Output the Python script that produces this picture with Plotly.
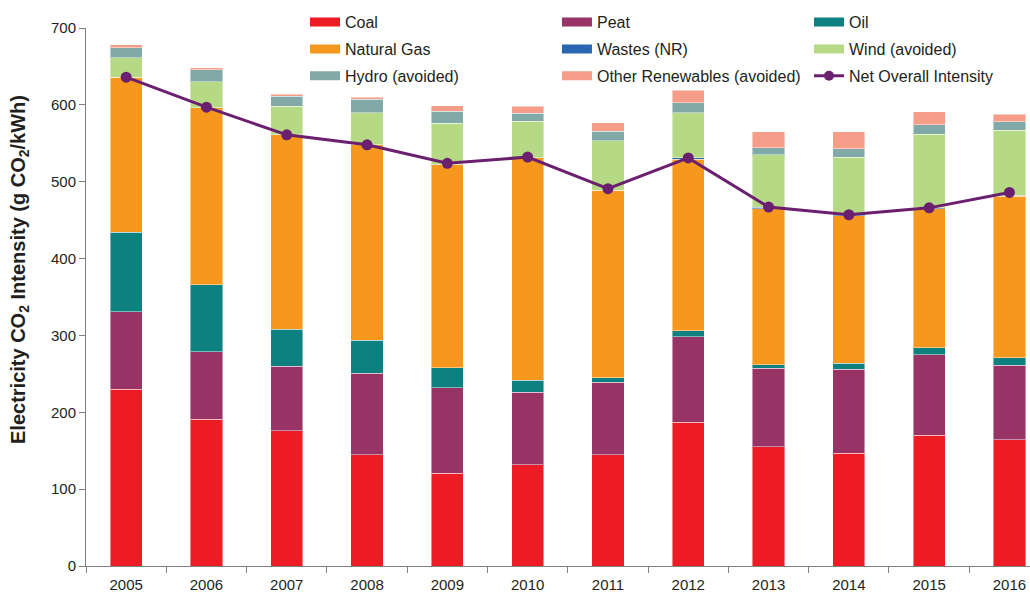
import plotly.graph_objects as go

years = ["2005", "2006", "2007", "2008", "2009", "2010", "2011", "2012", "2013", "2014", "2015", "2016"]

coal = [230, 191, 176, 145, 121, 132, 145, 187, 155, 147, 170, 164]
peat = [101, 88, 84, 106, 111, 94, 94, 111, 102, 109, 105, 97]
oil = [103, 87, 48, 43, 26, 16, 6, 8, 5, 8, 9, 10]
natural_gas = [202, 230, 253, 254, 264, 289, 244, 223, 203, 191.5, 181, 210]
wastes = [0, 0, 0, 0, 0, 0, 0, 2, 1.5, 1.5, 1, 1]
wind = [25, 34, 37, 42, 54, 47.5, 64, 59, 68.5, 75, 96, 85]
hydro = [13, 16, 13, 17, 16, 10.5, 12.5, 13, 9, 11, 12, 11]
other_renewables = [4, 2, 3, 3, 7, 9, 11.5, 16, 21, 22, 17, 10]
net_intensity = [636, 597, 561, 548, 524, 532, 491, 531, 467, 457, 466, 486]

series = [
    ("Coal", coal, "#ED1C24", "legend"),
    ("Peat", peat, "#983366", "legend2"),
    ("Oil", oil, "#0E8080", "legend3"),
    ("Natural Gas", natural_gas, "#F7981E", "legend"),
    ("Wastes (NR)", wastes, "#2B66B0", "legend2"),
    ("Wind (avoided)", wind, "#B6D985", "legend3"),
    ("Hydro (avoided)", hydro, "#80A9A7", "legend"),
    ("Other Renewables (avoided)", other_renewables, "#F59D88", "legend2"),
]

FONT = "Liberation Sans, Arial, sans-serif"
TXT = "#231F20"

fig = go.Figure()

for name, vals, color, lg in series:
    fig.add_trace(go.Bar(
        x=years, y=vals, name=name,
        marker=dict(color=color, line=dict(color="rgba(255,255,255,0.45)", width=1)),
        showlegend=False,
    ))

fig.add_trace(go.Scatter(
    x=years, y=net_intensity,
    mode="lines+markers",
    name="Net Overall Intensity",
    line=dict(color="#6B1F6F", width=3),
    marker=dict(color="#6B1F6F", size=11),
    showlegend=False,
))

# legend entries (wide flat swatches like the original)
for name, vals, color, lg in series:
    fig.add_trace(go.Scatter(
        x=[None], y=[None], mode="lines", name=name,
        line=dict(color=color, width=9),
        legend=lg, legendgroup=name,
    ))
fig.add_trace(go.Scatter(
    x=[None], y=[None], mode="lines+markers", name="Net Overall Intensity",
    line=dict(color="#6B1F6F", width=3),
    marker=dict(color="#6B1F6F", size=10),
    legend="legend3", legendgroup="net",
))

leg = dict(font=dict(family=FONT, size=16, color=TXT), bgcolor="rgba(0,0,0,0)",
           tracegroupgap=3, yanchor="top", y=1.0424, xanchor="left", itemwidth=30)

fig.update_layout(
    width=1030, height=594,
    margin=dict(l=86, r=0, t=28, b=28, autoexpand=False),
    barmode="stack", bargap=0.6,
    plot_bgcolor="white", paper_bgcolor="white",
    font=dict(family=FONT, size=15, color=TXT),
    legend=dict(leg, x=0.2320),
    legend2=dict(leg, x=0.4989),
    legend3=dict(leg, x=0.7659),
    xaxis=dict(
        range=[-0.5, 11.256], showline=True, linecolor="#808080", linewidth=1,
        ticks="outside", tickson="boundaries", ticklen=6, tickcolor="#808080",
        showgrid=False, automargin=False, tickfont=dict(size=15),
        ticklabelstandoff=5,
    ),
    yaxis=dict(
        range=[0, 700], dtick=100, showline=True, linecolor="#808080", linewidth=1,
        ticks="outside", ticklen=6, tickcolor="#808080", showgrid=False,
        zeroline=False, automargin=False, tickfont=dict(size=15),
    ),
    annotations=[dict(
        text="<b>Electricity CO<sub>2</sub> Intensity (g CO<sub>2</sub>/kWh)</b>",
        xref="paper", yref="paper", x=-0.071, y=0.552, textangle=-90,
        showarrow=False, font=dict(size=20, color=TXT, family=FONT),
        xanchor="center", yanchor="middle",
    )],
)

# page default body margin would shift the chart by 8px
fig.write_html("out.html", config={"displayModeBar": False},
               post_script="document.body.style.margin='0';")
